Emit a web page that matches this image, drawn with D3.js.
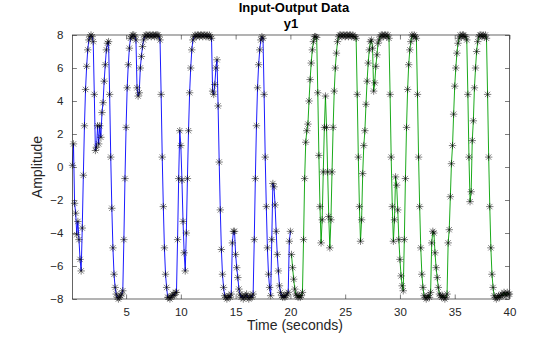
<!DOCTYPE html>
<html>
<head>
<meta charset="utf-8">
<script src="https://cdn.jsdelivr.net/npm/d3@7"></script>
<style>
  html, body { margin: 0; padding: 0; background: #fff; }
  svg { display: block; font-family: "Liberation Sans", Arial, Helvetica, sans-serif; }
</style>
</head>
<body>
<svg id="chart" width="560" height="337"></svg>
<script>
// Sample time of the record (seconds)
const Ts = 0.1;

// Output y1, first experiment (samples 1..200)
const y1Exp1 = [
  0.1, 1.4, -2.2, -2.8, -4.1, -3.3, -4.4, -5.6, -6.3, -3.7,
  -0.5, 2.5, 4.7, 6.1, 7.1, 7.7, 7.9, 8.0, 7.9, 7.6,
  4.4, 1.0, 1.2, 2.5, 1.4, 2.5, 1.8, 3.3, 3.9, 5.2,
  6.2, 7.1, 7.5, 7.6, 4.4, 0.6, -2.5, -4.9, -6.5, -7.3,
  -7.7, -7.9, -8.0, -7.9, -7.8, -7.7, -7.5, -4.4, -0.7, 2.4,
  4.8, 6.2, 7.2, 7.8, 7.9, 8.0, 8.0, 7.9, 7.7, 4.8,
  4.3, 4.5, 6.0, 6.7, 7.3, 7.7, 7.9, 8.0, 8.0, 7.9,
  8.0, 8.0, 7.9, 8.0, 8.0, 7.9, 8.0, 8.0, 8.0, 7.9,
  7.7, 4.4, 0.6, -2.4, -4.9, -6.5, -7.3, -7.9, -7.9, -8.0,
  -7.9, -7.8, -7.7, -7.8, -7.6, -7.6, -4.4, -0.7, 2.2, 1.3,
  -0.8, -3.3, -5.2, -6.3, -4.0, -0.7, 2.2, 4.5, 6.0, 7.1,
  7.7, 7.9, 8.0, 7.9, 8.0, 8.0, 7.9, 8.0, 8.0, 7.9,
  8.0, 8.0, 7.9, 8.0, 7.9, 8.0, 7.9, 7.8, 4.6, 4.4,
  5.0, 6.0, 6.5, 3.7, 0.3, -2.6, -5.0, -6.5, -7.3, -7.8,
  -7.9, -8.0, -7.9, -7.8, -7.9, -7.7, -4.6, -3.9, -3.9, -5.3,
  -6.1, -6.7, -7.4, -7.7, -7.9, -7.8, -8.0, -7.9, -7.8, -7.7,
  -7.9, -8.0, -7.9, -7.8, -7.9, -7.7, -4.4, -0.7, 2.5, 4.8,
  6.2, 7.1, 7.7, 7.9, 7.8, 4.4, 0.6, -2.4, -4.9, -6.5,
  -7.3, -7.8, -4.4, -1.0, -1.2, -2.3, -3.9, -5.3, -6.3, -7.2,
  -7.6, -7.8, -7.9, -7.8, -7.9, -7.8, -7.7, -7.6, -4.5, -3.9
];

// Output y1, second experiment (samples 201..400)
const y1Exp2 = [
  -5.3, -6.1, -6.8, -7.4, -7.7, -7.8, -7.9, -7.8, -7.9, -7.8,
  -7.6, -4.4, -0.7, 1.5, 2.2, 2.6, 4.0, 5.3, 6.3, 7.1,
  7.6, 7.9, 7.9, 7.85, 4.5, 0.7, -2.4, -4.6, -3.2, -0.3,
  2.4, 4.3, 2.4, -0.3, -3.0, -4.9, -3.2, -0.3, 2.4, 4.6,
  6.0, 6.9, 7.6, 7.9, 8.0, 8.0, 7.9, 8.0, 8.0, 7.9,
  8.0, 8.0, 7.9, 8.0, 8.0, 7.9, 8.0, 7.9, 7.9, 7.8,
  4.4, 0.6, -2.4, -4.5, -3.2, -0.4, 1.3, 2.2, 3.8, 5.2,
  6.3, 7.1, 7.6, 7.7, 7.2, 4.6, 5.1, 6.1, 6.8, 7.5,
  7.7, 7.9, 8.0, 8.0, 7.9, 8.0, 8.0, 7.9, 8.0, 7.8,
  4.4, 0.6, -2.4, -4.5, -3.2, -0.6, -1.1, -2.6, -4.4, -5.6,
  -6.6, -7.2, -7.5, -4.4, -0.7, 2.4, 4.7, 6.2, 7.1, 7.6,
  8.0, 7.9, 8.0, 7.9, 7.8, 4.4, 0.6, -2.4, -4.9, -6.5,
  -7.3, -7.8, -7.9, -8.0, -7.9, -7.8, -7.9, -7.6, -4.6, -3.9,
  -4.0, -5.2, -6.1, -6.7, -7.3, -7.7, -7.8, -7.9, -7.8, -7.9,
  -8.0, -7.9, -7.7, -4.6, -3.8, -1.8, 0.2, 1.3, 3.2, 4.9,
  6.0, 6.9, 7.5, 7.8, 8.0, 7.9, 8.0, 8.0, 7.9, 7.9,
  7.7, 4.4, 0.6, -2.1, -1.5, 1.6, 2.8, 4.8, 6.0, 7.0,
  7.6, 7.9, 8.0, 8.0, 7.9, 8.0, 7.9, 8.0, 7.8, 4.4,
  0.6, -2.4, -4.9, -6.5, -7.3, -7.8, -7.9, -8.0, -7.9, -7.8,
  -7.9, -7.8, -7.7, -7.8, -7.6, -7.7, -7.8, -7.6, -7.7, -7.7
];

const xTicks = [5, 10, 15, 20, 25, 30, 35, 40];
const yTicks = [-8, -6, -4, -2, 0, 2, 4, 6, 8];
const seriesColors = ["#0000ff", "#00a000"];

const titleText = "Input-Output Data";
const subTitleText = "y1";
const xLabelText = "Time (seconds)";
const yLabelText = "Amplitude";

// Build (t, y) records for each experiment
const exp1 = y1Exp1.map((v, i) => ({ t: (i + 1) * Ts, y: v }));
const exp2 = y1Exp2.map((v, i) => ({ t: (y1Exp1.length + i + 1) * Ts, y: v }));

const svg = d3.select("#chart");
const W = 560, H = 337;
svg.append("rect").attr("width", W).attr("height", H).attr("fill", "#fff");

const pLeft = 72.4, pRight = 509.5, pTop = 35, pBottom = 299;
const x = d3.scaleLinear().domain([Ts, 40]).range([pLeft, pRight]);
const y = d3.scaleLinear().domain([-8, 8]).range([pBottom, pTop]);

const axisColor = "#262626";

// plot area
const plot = svg.append("g");
plot.append("clipPath").attr("id", "clip")
  .append("rect").attr("x", pLeft - 4).attr("y", pTop - 4)
  .attr("width", pRight - pLeft + 8).attr("height", pBottom - pTop + 8);

const line = d3.line().x(d => x(d.t)).y(d => y(d.y));

const dataG = plot.append("g").attr("clip-path", "url(#clip)");
[exp1, exp2].forEach((s, k) => {
  dataG.append("path")
    .attr("d", line(s))
    .attr("fill", "none")
    .attr("stroke", seriesColors[k])
    .attr("stroke-width", 0.9)
    .attr("stroke-linejoin", "round");
});

// asterisk markers
function asterisk(px, py, r) {
  const d = r * 0.72;
  return `M${px - r},${py}H${px + r}M${px},${py - r}V${py + r}` +
    `M${px - d},${py - d}L${px + d},${py + d}M${px - d},${py + d}L${px + d},${py - d}`;
}
[exp1, exp2].forEach(s => {
  dataG.append("path")
    .attr("d", s.map(d => asterisk(x(d.t), y(d.y), 3.7)).join(""))
    .attr("fill", "none")
    .attr("stroke", "#000")
    .attr("stroke-opacity", 0.85)
    .attr("stroke-width", 0.6);
});

// axes (ticks inside, box)
const tickLen = 4.5;
const xAxisB = d3.axisBottom(x).tickValues(xTicks).tickSizeInner(-tickLen).tickSizeOuter(0).tickPadding(9);
const xAxisT = d3.axisTop(x).tickValues(xTicks).tickSizeInner(-tickLen).tickSizeOuter(0).tickFormat("");
const yAxisL = d3.axisLeft(y).tickValues(yTicks).tickSizeInner(-tickLen).tickSizeOuter(0).tickPadding(9);
const yAxisR = d3.axisRight(y).tickValues(yTicks).tickSizeInner(-tickLen).tickSizeOuter(0).tickFormat("");

function styleAxis(g) {
  g.select(".domain").remove();
  g.selectAll("line").attr("stroke", axisColor).attr("stroke-width", 0.6);
  g.selectAll("text").attr("fill", axisColor).style("font-size", "11.5px")
    .style("font-family", '"Liberation Sans", Arial, Helvetica, sans-serif');
}

svg.append("g").attr("transform", `translate(0,${pBottom})`).call(xAxisB).call(styleAxis);
svg.append("g").attr("transform", `translate(0,${pTop})`).call(xAxisT).call(styleAxis);
svg.append("g").attr("transform", `translate(${pLeft},0)`).call(yAxisL).call(styleAxis);
svg.append("g").attr("transform", `translate(${pRight},0)`).call(yAxisR).call(styleAxis);

svg.append("rect")
  .attr("x", pLeft).attr("y", pTop)
  .attr("width", pRight - pLeft).attr("height", pBottom - pTop)
  .attr("fill", "none").attr("stroke", axisColor).attr("stroke-width", 0.7);

// titles and labels
const cx = (pLeft + pRight) / 2;
svg.append("text").attr("x", cx + 3).attr("y", 12)
  .attr("text-anchor", "middle").attr("font-weight", "bold")
  .style("font-size", "13px").attr("fill", "#000").text(titleText);
svg.append("text").attr("x", cx).attr("y", 28)
  .attr("text-anchor", "middle").attr("font-weight", "bold")
  .style("font-size", "13px").attr("fill", "#000").text(subTitleText);
svg.append("text").attr("x", cx + 4).attr("y", 330)
  .attr("text-anchor", "middle")
  .style("font-size", "14px").attr("fill", axisColor).text(xLabelText);
svg.append("text")
  .attr("transform", `translate(42,${(pTop + pBottom) / 2}) rotate(-90)`)
  .attr("text-anchor", "middle")
  .style("font-size", "14px").attr("fill", axisColor).text(yLabelText);
</script>
</body>
</html>
